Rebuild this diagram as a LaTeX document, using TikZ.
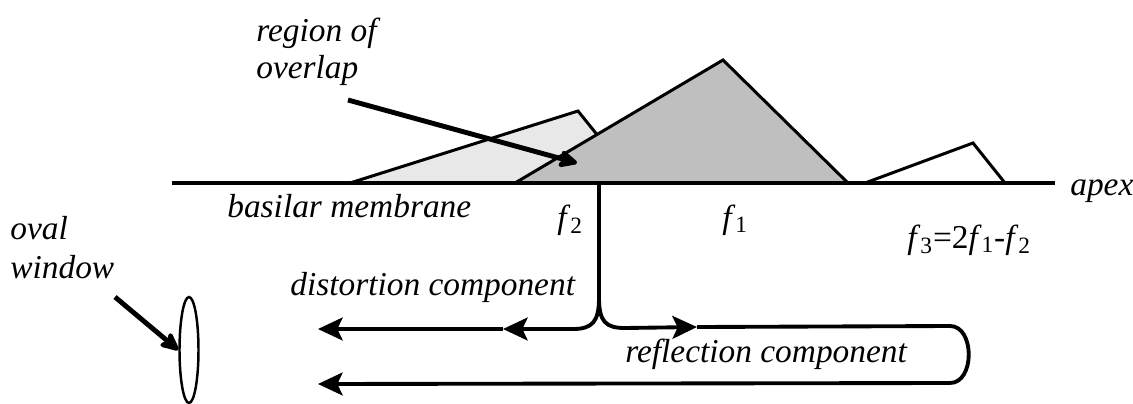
\documentclass[tikz,border=0pt]{standalone}
\usepackage{fontspec}
\setmainfont{Liberation Serif}
\usetikzlibrary{arrows.meta,shapes.geometric}

\tikzset{
  lbl/.style={font=\fontsize{19}{22}\selectfont\itshape, inner sep=0pt, anchor=base west},
  fsub/.style={font=\fontsize{19}{22}\selectfont, inner sep=0pt, anchor=base west},
  tri/.style={line width=1.7pt, line join=miter},
  pointer/.style={line width=2.8pt, -{Stealth[length=13pt,width=12pt,inset=3pt,round]}},
  comp/.style={line width=2.2pt},
  comptip/.style={comp, -{Stealth[length=14pt,width=13pt,inset=3pt]}}
}

\begin{document}
\begin{tikzpicture}[x=0.02cm,y=-0.02cm]
  \useasboundingbox (0,0) rectangle (1133,403);
  % tones on the membrane
  \draw[tri,fill=gray!18] (350,183)--(578,111)--(636,183)--cycle;
  \draw[tri,fill=gray!50] (515,183)--(723,60)--(848,183)--cycle;
  \draw[tri] (865,183)--(973,143)--(1005,183);
  \draw[line width=2pt] (172,183) coordinate (bmL) -- (1055,183) coordinate (bmR);
  % labels
  \node[lbl] (region) at (256,41) {region of};
  \node[lbl] (overlap) at (256,78) {overlap};
  \node[lbl] (bm) at (227,217) {basilar membrane};
  \node[lbl] (apex) at (1070,195) {apex};
  \node[fsub] (ftwo) at (557,228) {\textit{f}\textsubscript{2}};
  \node[fsub] (fone) at (722,228) {\textit{f}\textsubscript{1}};
  \node[fsub] (fthree) at (907,248) {\textit{f}\textsubscript{3}=2\textit{f}\textsubscript{1}-\textit{f}\textsubscript{2}};
  \node[lbl] (oval) at (10,239) {oval};
  \node[lbl] (window) at (10,278) {window};
  \node[lbl] (dist) at (290,295) {distortion component};
  \node[lbl] (refl) at (625,362) {reflection component};
  % oval window
  \node[draw,line width=1.4pt,ellipse,minimum width=0.38cm,minimum height=2.12cm,inner sep=0pt] (ow) at (189,350) {};
  % pointers
  \coordinate (ovtail) at (348,100);
  \coordinate (ovtip) at (577,163);
  \draw[pointer] (ovtail) -- (ovtip);
  \coordinate (owtail) at (115,297);
  \draw[pointer] (owtail) -- (ow.west);
  % emission paths
  \coordinate (src) at (599,183);
  \coordinate (cusp) at (599,298);
  \coordinate (cL) at (573,329);
  \coordinate (cR) at (625,328);
  \coordinate (midL) at (503,329);
  \coordinate (midR) at (697,327);
  \coordinate (endU) at (318,329);
  \coordinate (turnT) at (950,326);
  \coordinate (turnB) at (950,383);
  \coordinate (endB) at (318,384);
  \draw[comp] (src) -- (cusp);
  \draw[comp] (cusp) .. controls (599,322) and (592,329) .. (cL);
  \draw[comp] (cusp) .. controls (599,322) and (606,328) .. (cR);
  \draw[comptip] (cL) -- (midL);
  \draw[comptip] (midL) -- (endU);
  \draw[comptip] (cR) -- (midR);
  \draw[comp] (midR) -- (turnT) .. controls (975,326) and (975,383) .. (turnB);
  \draw[comptip] (turnB) -- (endB);
\end{tikzpicture}
\end{document}
